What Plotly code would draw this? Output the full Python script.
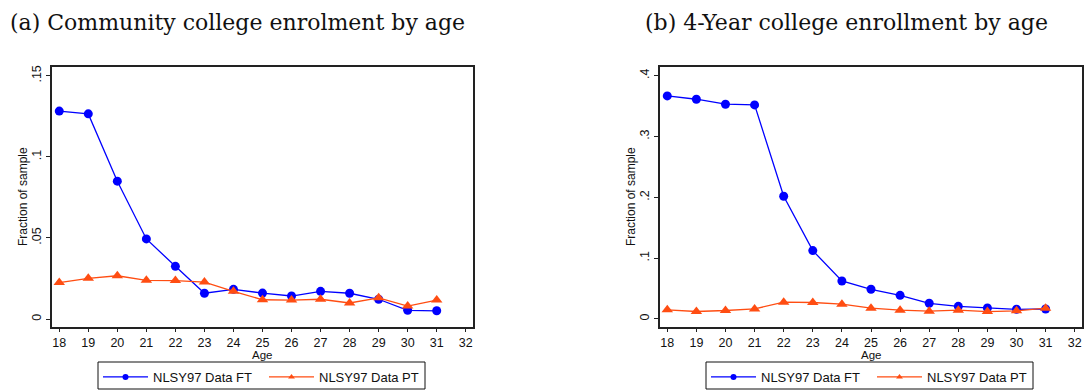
import plotly.graph_objects as go

# Ages observed in the NLSY97 panel
ages = list(range(18, 32))

# Panel (a): community college enrolment shares
cc_full_time = [0.1282, 0.1265, 0.0850, 0.0494, 0.0325, 0.0159, 0.0183,
                0.0160, 0.0142, 0.0171, 0.0159, 0.0122, 0.0054, 0.0051]
cc_part_time = [0.0225, 0.0251, 0.0267, 0.0239, 0.0237, 0.0228, 0.0171,
                0.0119, 0.0117, 0.0122, 0.0099, 0.0131, 0.0080, 0.0117]

# Panel (b): 4-year college enrollment shares
fy_full_time = [0.3668, 0.3613, 0.3531, 0.3520, 0.2018, 0.1124, 0.0625,
                0.0488, 0.0389, 0.0258, 0.0208, 0.0181, 0.0159, 0.0164]
fy_part_time = [0.0150, 0.0123, 0.0139, 0.0166, 0.0276, 0.0271, 0.0243,
                0.0178, 0.0145, 0.0128, 0.0145, 0.0122, 0.0134, 0.0178]

x_ticks = list(range(18, 33))
cc_y_ticks = [0, 0.05, 0.1, 0.15]
cc_y_labels = ["0", ".05", ".1", ".15"]
fy_y_ticks = [0, 0.1, 0.2, 0.3, 0.4]
fy_y_labels = ["0", ".1", ".2", ".3", ".4"]

titles = ["(a) Community college enrolment by age",
          "(b) 4-Year college enrollment by age"]
series_names = ["NLSY97 Data FT", "NLSY97 Data PT"]
x_title = "Age"
y_title = "Fraction of sample"

BLUE = "#0000ff"
ORANGE = "#ff4d12"
W, H = 1086, 392


def px_x(p):
    return p / W


def px_y(p):
    return 1 - p / H


fig = go.Figure()

panels = [
    (cc_full_time, cc_part_time, "x", "y", "legend"),
    (fy_full_time, fy_part_time, "x2", "y2", "legend2"),
]
for ft, pt, xa, ya, lg in panels:
    for vals, name, color, symbol, size in [
        (ft, series_names[0], BLUE, "circle", 9),
        (pt, series_names[1], ORANGE, "triangle-up", 10),
    ]:
        # plotted series
        fig.add_trace(go.Scatter(
            x=ages, y=vals, name=name, mode="lines+markers",
            line=dict(color=color, width=1.3),
            marker=dict(symbol=symbol, size=size, color=color),
            xaxis=xa, yaxis=ya, showlegend=False))
        # legend key with a smaller marker
        fig.add_trace(go.Scatter(
            x=[None], y=[None], name=name, mode="lines+markers",
            line=dict(color=color, width=1.3),
            marker=dict(symbol=symbol, size=6, color=color),
            xaxis=xa, yaxis=ya, legend=lg, showlegend=True))

sans = "Liberation Sans, Arial, sans-serif"
axis_font = dict(family=sans, size=12.5, color="#111")
common_x = dict(
    range=[17.75, 32.25], tickmode="array", tickvals=x_ticks,
    ticks="outside", ticklen=3, tickcolor="#222", showgrid=False, zeroline=False,
    showline=True, linecolor="#222", linewidth=1.5, mirror=True,
    tickfont=axis_font, automargin=False,
)
common_y = dict(
    ticks="outside", ticklen=4, tickcolor="#222", showgrid=False, zeroline=False,
    showline=True, linecolor="#222", linewidth=1.5, mirror=True,
    tickfont=axis_font, tickangle=-90, tickmode="array", automargin=False,
)

legend_style = dict(
    orientation="h", xanchor="left", yanchor="top",
    borderwidth=0, bgcolor="rgba(0,0,0,0)",
    font=dict(family=sans, size=13, color="#111"),
    entrywidth=106, entrywidthmode="pixels", itemwidth=45,
)

y_dom = [px_y(327), px_y(67)]
fig.update_layout(
    width=W, height=H,
    margin=dict(l=0, r=0, t=0, b=0, autoexpand=False),
    paper_bgcolor="white", plot_bgcolor="white",
    showlegend=True,
    xaxis=dict(common_x, domain=[px_x(52), px_x(473)], anchor="y"),
    yaxis=dict(common_y, domain=y_dom, anchor="x",
               range=[-0.0049, 0.1554], tickvals=cc_y_ticks, ticktext=cc_y_labels),
    xaxis2=dict(common_x, domain=[px_x(660), px_x(1082)], anchor="y2"),
    yaxis2=dict(common_y, domain=y_dom, anchor="x2",
                range=[-0.0132, 0.4143], tickvals=fy_y_ticks, ticktext=fy_y_labels),
    legend=dict(legend_style, x=px_x(98), y=px_y(362)),
    legend2=dict(legend_style, x=px_x(706), y=px_y(362)),
)

# legend frames
for x0, x1 in [(98, 425), (706, 1033)]:
    fig.add_shape(type="rect", xref="paper", yref="paper",
                  x0=px_x(x0), x1=px_x(x1), y0=px_y(389), y1=px_y(362),
                  line=dict(color="#111", width=1), layer="above")

# panel titles
title_font = dict(family="DejaVu Serif, Liberation Serif, serif", size=22, color="#111")
for text, xpos in zip(titles, [8, 643]):
    fig.add_annotation(text=text, xref="paper", yref="paper",
                       x=px_x(xpos), y=px_y(22), xanchor="left", yanchor="middle",
                       showarrow=False, font=title_font)

# axis titles
for x_center, y_center in [(262, 23), (871, 631)]:
    fig.add_annotation(text=x_title, xref="paper", yref="paper",
                       x=px_x(x_center), y=px_y(355), xanchor="center", yanchor="middle",
                       showarrow=False, font=dict(family=sans, size=11.5, color="#111"),
                       borderpad=0)
    fig.add_annotation(text=y_title, xref="paper", yref="paper",
                       x=px_x(y_center), y=px_y(197), xanchor="center", yanchor="middle",
                       textangle=-90, showarrow=False,
                       font=dict(family=sans, size=12, color="#111"))

fig.write_html("out.html")
